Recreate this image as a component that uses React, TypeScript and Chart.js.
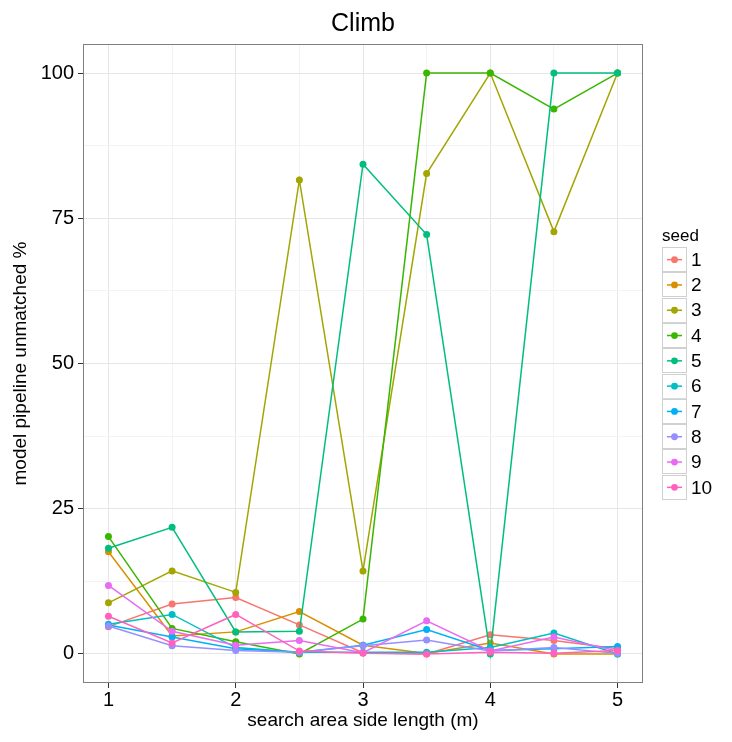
import React, { useEffect, useRef } from 'react';
import { Chart, registerables } from 'chart.js';

Chart.register(...registerables);

const chartTitle = 'Climb';
const xAxisTitle = 'search area side length (m)';
const yAxisTitle = 'model pipeline unmatched %';
const legendTitle = 'seed';

const xValues = [1, 1.5, 2, 2.5, 3, 3.5, 4, 4.5, 5];
const seedNames = ['1', '2', '3', '4', '5', '6', '7', '8', '9', '10'];

const seed1 = [4.7, 8.6, 9.7, 5.0, 0.2, 0.0, 3.3, 2.3, 0.9];
const seed2 = [17.6, 3.1, 3.8, 7.3, 1.5, 0.1, 1.9, 0.0, 0.0];
const seed3 = [8.8, 14.3, 10.6, 81.6, 14.3, 82.7, 100, 72.7, 100];
const seed4 = [20.2, 4.4, 2.1, 0.0, 6.0, 100, 100, 93.8, 100];
const seed5 = [18.2, 21.8, 3.8, 3.9, 84.3, 72.2, 0.0, 100, 100];
const seed6 = [5.1, 6.8, 1.1, 0.3, 0.3, 0.3, 1.1, 3.6, 0.0];
const seed7 = [5.0, 2.9, 0.9, 0.3, 1.5, 4.2, 0.6, 0.9, 1.3];
const seed8 = [4.8, 1.4, 0.6, 0.3, 1.4, 2.4, 0.5, 1.1, 0.1];
const seed9 = [11.8, 3.9, 1.5, 2.3, 0.2, 5.7, 0.5, 2.9, 0.5];
const seed10 = [6.5, 1.9, 6.8, 0.5, 0.1, 0.0, 0.3, 0.1, 0.6];

const seedSeries = [seed1, seed2, seed3, seed4, seed5, seed6, seed7, seed8, seed9, seed10];
const seedColors = ['#F8766D', '#D89000', '#A3A500', '#39B600', '#00BF7D', '#00BFC4', '#00B0F6', '#9590FF', '#E76BF3', '#FF62BC'];

const xTickValues = [1, 1.5, 2, 2.5, 3, 3.5, 4, 4.5, 5];
const xMajorTicks = [1, 2, 3, 4, 5];
const yTickValues = [0, 12.5, 25, 37.5, 50, 62.5, 75, 87.5, 100];
const yMajorTicks = [0, 25, 50, 75, 100];

const FONT = '"Liberation Sans", Arial, Helvetica, sans-serif';

const decorPlugin = {
  id: 'decor',
  afterDraw(chart: any) {
    const ctx = chart.ctx;
    const a = chart.chartArea;
    ctx.save();
    // panel border
    ctx.strokeStyle = '#7F7F7F';
    ctx.lineWidth = 1;
    ctx.strokeRect(Math.round(a.left) + 0.5, Math.round(a.top) + 0.5, Math.round(a.right - a.left) - 1, Math.round(a.bottom - a.top) - 1);

    ctx.fillStyle = '#000';
    // title
    ctx.font = `25px ${FONT}`;
    ctx.textAlign = 'center';
    ctx.textBaseline = 'middle';
    ctx.fillText(chartTitle, (a.left + a.right) / 2, 24);

    // x axis title
    ctx.font = `19px ${FONT}`;
    ctx.fillText(xAxisTitle, (a.left + a.right) / 2, 721);

    // y axis title
    ctx.save();
    ctx.translate(21, (a.top + a.bottom) / 2);
    ctx.rotate(-Math.PI / 2);
    ctx.fillText(yAxisTitle, 0, 0);
    ctx.restore();

    // legend
    const lx = 662;
    const ly0 = 247;
    const rowH = 25.3;
    const boxW = 25;
    ctx.textAlign = 'left';
    ctx.textBaseline = 'alphabetic';
    ctx.font = `17px ${FONT}`;
    ctx.fillText(legendTitle, lx, 241);
    ctx.font = `19px ${FONT}`;
    seedNames.forEach((name, i) => {
      const y = ly0 + i * rowH;
      ctx.fillStyle = '#FFFFFF';
      ctx.fillRect(lx, y, boxW, rowH);
      ctx.strokeStyle = '#D0D0D0';
      ctx.lineWidth = 1;
      ctx.strokeRect(lx + 0.5, Math.round(y) + 0.5, boxW - 1, Math.round(rowH) - 1);
      const cy = y + rowH / 2;
      ctx.strokeStyle = seedColors[i];
      ctx.lineWidth = 1.5;
      ctx.beginPath();
      ctx.moveTo(lx + 5, cy);
      ctx.lineTo(lx + boxW - 5, cy);
      ctx.stroke();
      ctx.fillStyle = seedColors[i];
      ctx.beginPath();
      ctx.arc(lx + boxW / 2, cy, 3.4, 0, Math.PI * 2);
      ctx.fill();
      ctx.fillStyle = '#000';
      ctx.textBaseline = 'middle';
      ctx.fillText(name, lx + boxW + 4, cy + 1);
    });
    ctx.restore();
  },
};

export default function App() {
  const canvasRef = useRef<HTMLCanvasElement | null>(null);

  useEffect(() => {
    if (!canvasRef.current) return;
    const datasets = seedSeries.map((vals, i) => ({
      label: seedNames[i],
      data: xValues.map((x, j) => ({ x, y: vals[j] })),
      borderColor: seedColors[i],
      backgroundColor: seedColors[i],
      borderWidth: 1.5,
      pointRadius: 3.5,
      pointBorderWidth: 0,
      pointBackgroundColor: seedColors[i],
      tension: 0,
      order: seedSeries.length - 1 - i,
    }));

    const chart = new Chart(canvasRef.current, {
      type: 'line',
      data: { datasets },
      plugins: [decorPlugin],
      options: {
        responsive: false,
        animation: false,
        layout: { padding: { left: 0, right: 89, top: 44, bottom: 0 } },
        plugins: {
          legend: { display: false },
          title: { display: false },
          tooltip: { enabled: false },
        },
        scales: {
          x: {
            type: 'linear',
            min: 0.8,
            max: 5.2,
            afterBuildTicks: (scale: any) => {
              scale.ticks = xTickValues.map((v) => ({ value: v }));
            },
            afterFit: (scale: any) => {
              scale.height = 59;
            },
            border: { display: false },
            grid: {
              color: (c: any) => (xMajorTicks.includes(c.tick?.value) ? '#E6E6E6' : '#F3F3F3'),
              lineWidth: 1,
              drawTicks: true,
              tickLength: 5,
              tickColor: (c: any) => (xMajorTicks.includes(c.tick?.value) ? '#333333' : 'rgba(0,0,0,0)'),
            },
            ticks: {
              autoSkip: false,
              maxRotation: 0,
              padding: 0,
              color: '#000',
              font: { family: FONT, size: 20 },
              callback: (v: any) => (xMajorTicks.includes(Number(v)) ? String(v) : ''),
            },
          },
          y: {
            type: 'linear',
            min: -5,
            max: 105,
            afterBuildTicks: (scale: any) => {
              scale.ticks = yTickValues.map((v) => ({ value: v }));
            },
            afterFit: (scale: any) => {
              scale.width = 83;
            },
            border: { display: false },
            grid: {
              color: (c: any) => (yMajorTicks.includes(c.tick?.value) ? '#E6E6E6' : '#F3F3F3'),
              lineWidth: 1,
              drawTicks: true,
              tickLength: 5,
              tickColor: (c: any) => (yMajorTicks.includes(c.tick?.value) ? '#333333' : 'rgba(0,0,0,0)'),
            },
            ticks: {
              autoSkip: false,
              padding: 4,
              color: '#000',
              font: { family: FONT, size: 20 },
              callback: (v: any) => (yMajorTicks.includes(Number(v)) ? String(v) : ''),
            },
          },
        },
      },
    });
    return () => chart.destroy();
  }, []);

  return (
    <div style={{ position: 'fixed', left: 0, top: 0, width: 732, height: 742, background: '#fff' }}>
      <canvas ref={canvasRef} width={732} height={742} style={{ display: 'block', width: 732, height: 742 }} />
    </div>
  );
}
